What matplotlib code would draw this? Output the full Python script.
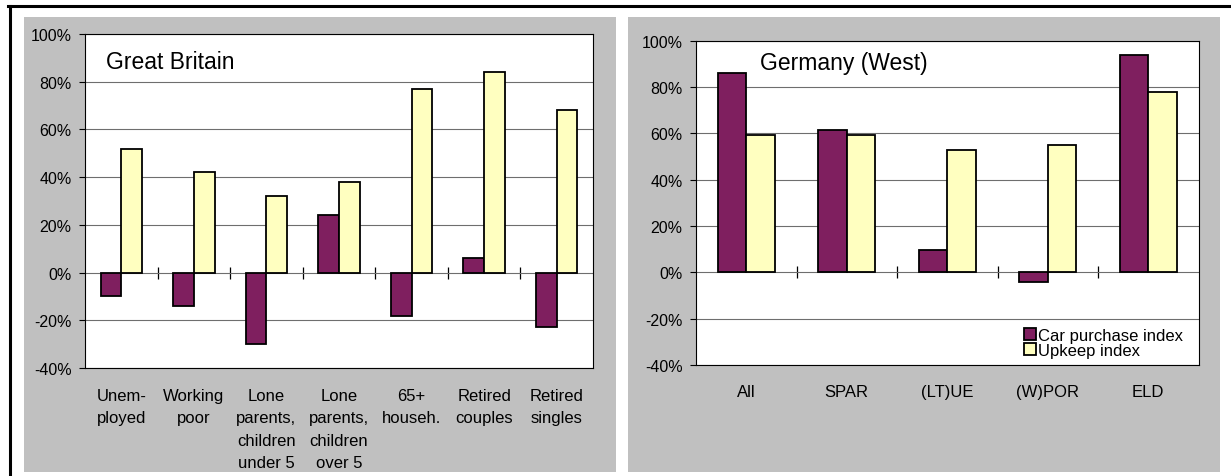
import matplotlib.pyplot as plt
import numpy as np
from matplotlib.lines import Line2D
from matplotlib.patches import Rectangle
from matplotlib.ticker import StrMethodFormatter

plt.rcParams['font.family'] = ['Liberation Sans', 'DejaVu Sans']
plt.rcParams['axes.unicode_minus'] = False

gb_labels = ["Unem-\nployed", "Working\npoor", "Lone\nparents,\nchildren\nunder 5",
             "Lone\nparents,\nchildren\nover 5", "65+\nhouseh.", "Retired\ncouples", "Retired\nsingles"]
gb_car = [-10, -14, -30, 24, -18, 6, -23]
gb_upkeep = [52, 42, 32, 38, 77, 84, 68]

de_labels = ["All", "SPAR", "(LT)UE", "(W)POR", "ELD"]
de_car = [86, 61.5, 9.5, -4, 94]
de_upkeep = [59.5, 59.5, 53, 55, 78]

series_names = ["Car purchase index", "Upkeep index"]
car_color = "#7f1f5f"
upkeep_color = "#ffffc0"
panel_gray = "#c0c0c0"
grid_gray = "#6e6e6e"

fig = plt.figure(figsize=(12.31, 4.77), dpi=100)

# grey chart areas behind each plot
for x0 in (24 / 1231, 628 / 1231):
    fig.patches.append(Rectangle((x0, 4 / 477), 592 / 1231, 455 / 477,
                                 transform=fig.transFigure, facecolor=panel_gray,
                                 edgecolor="none", zorder=-2))
# black frame lines along the top and left edge
fig.lines.append(Line2D([8 / 1231, 1], [1 - 6.5 / 477, 1 - 6.5 / 477],
                        transform=fig.transFigure, color="black", lw=2.2, zorder=-1))
fig.lines.append(Line2D([9.5 / 1231, 9.5 / 1231], [0, 1 - 6.5 / 477],
                        transform=fig.transFigure, color="black", lw=2.2, zorder=-1))

ax1 = fig.add_axes([85 / 1231, 1 - 369 / 477, 508 / 1231, 334 / 477])
ax2 = fig.add_axes([696 / 1231, 1 - 366 / 477, 502.5 / 1231, 324.3 / 477])


def draw_panel(ax, labels, car, upkeep, title, title_xy, label_pad):
    x = np.arange(len(labels))
    w = 2 / 7
    ax.bar(x - w / 2, car, w, color=car_color, edgecolor="black", lw=1.3,
           label=series_names[0], zorder=3)
    ax.bar(x + w / 2, upkeep, w, color=upkeep_color, edgecolor="black", lw=1.3,
           label=series_names[1], zorder=3)

    ax.set_xlim(-0.5, len(labels) - 0.5)
    ax.set_ylim(-40, 100)
    ax.set_yticks(np.arange(-40, 101, 20))
    ax.yaxis.set_major_formatter(StrMethodFormatter("{x:.0f}%"))
    ax.yaxis.grid(True, color=grid_gray, lw=0.8)
    ax.set_axisbelow(True)

    ax.set_xticks(x)
    ax.set_xticklabels(labels, fontsize=12, linespacing=1.6, va="top")
    ax.tick_params(axis="x", length=0, pad=label_pad)
    ax.tick_params(axis="y", direction="out", length=4.3, width=0.8,
                   labelsize=11.5, pad=5.5)
    for sp in ax.spines.values():
        sp.set_color("black")
        sp.set_linewidth(0.8)

    # category axis at 0% with tick marks between groups
    zero = ax.secondary_xaxis(40 / 140)
    zero.set_xticks(np.arange(0.5, len(labels) - 0.5, 1))
    zero.tick_params(axis="x", direction="inout", length=8, width=0.9,
                     labelbottom=False, labeltop=False, color="black")
    zero.spines["bottom"].set_visible(False)
    zero.spines["top"].set_visible(False)

    ax.text(title_xy[0], title_xy[1], title, transform=ax.transAxes,
            fontsize=16.5, va="center", ha="left")


draw_panel(ax1, gb_labels, gb_car, gb_upkeep, "Great Britain", (0.041, 0.919), 14.5)
draw_panel(ax2, de_labels, de_car, de_upkeep, "Germany (West)", (0.127, 0.934), 13.5)

ax2.legend(loc="lower left", bbox_to_anchor=(0.653, 0.022), frameon=False,
           fontsize=12, handlelength=0.7, handleheight=0.75, handletextpad=0.15,
           labelspacing=0.0, borderpad=0, borderaxespad=0)

fig.savefig("out.png", dpi=100)
